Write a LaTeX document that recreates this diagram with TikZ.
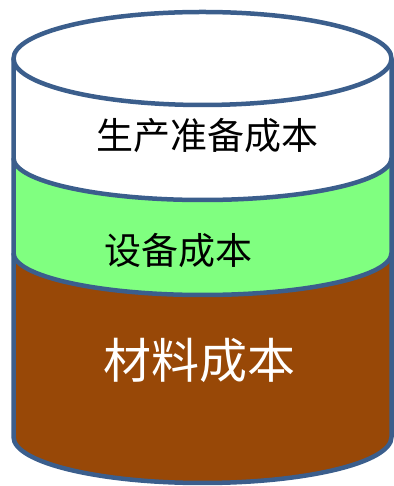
\documentclass[tikz,border=0pt]{standalone}
\usepackage{fontspec}
\newfontfamily\cjk{Noto Sans CJK SC}
\usepackage{tikz}
\definecolor{rim}{HTML}{3B5E8C}
\definecolor{band}{HTML}{80FF80}
\definecolor{base}{HTML}{984807}
\tikzset{
    rimline/.style={draw=rim, line width=4.5pt, line join=round},
    tag/.style={inner sep=0pt, font=\cjk\fontsize{37}{40}\selectfont}, % layer names
    bigtag/.style={style=tag, text=white, font=\cjk\fontsize{48}{52}\selectfont}
}

\begin{document}
\begin{tikzpicture}[x=1pt, y=1pt]
          \useasboundingbox (0,0) rectangle (393,486);

          % layers, top to bottom
          \fill[white] (13.5,427.5) -- (13.5,328) arc[start angle=180, end angle=360, x radius=189, y radius=42]
                -- (391.5,427.5) arc[start angle=0, end angle=180, x radius=189, y radius=46.5] -- cycle;
          \fill[band] (13.5,328) arc[start angle=180, end angle=360, x radius=189, y radius=42]
                -- (391.5,233) arc[start angle=0, end angle=-180, x radius=189, y radius=42] -- cycle;
          \fill[base] (13.5,233) arc[start angle=180, end angle=360, x radius=189, y radius=42]
                -- (391.5,49) arc[start angle=0, end angle=-180, x radius=189, y radius=46] -- cycle;

          % outline
          \draw[rimline] (202.5,427.5) ellipse[x radius=189, y radius=46.5];
          \draw[rimline] (13.5,427.5) -- (13.5,49) arc[start angle=180, end angle=360, x radius=189, y radius=46] -- (391.5,427.5);
          \draw[rimline] (13.5,328) arc[start angle=180, end angle=360, x radius=189, y radius=42];
          \draw[rimline] (13.5,233) arc[start angle=180, end angle=360, x radius=189, y radius=42];

          \node[tag] (prep) at (207.5,350) {生产准备成本};
          \node[tag] (equip) at (178,235) {设备成本};
          \node[bigtag] (material) at (199.5,126) {材料成本};
        \end{tikzpicture}
\end{document}
